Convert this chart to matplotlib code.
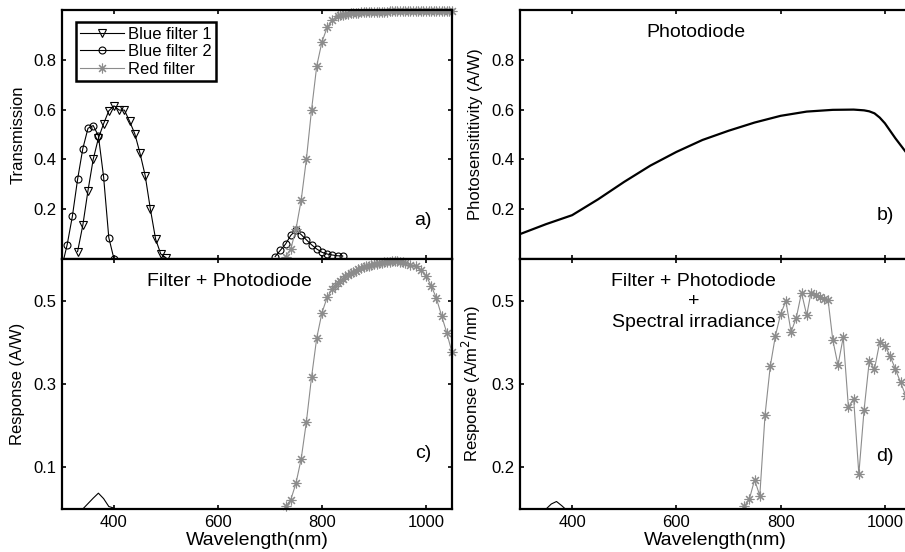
import numpy as np
import matplotlib.pyplot as plt

plt.rcParams['font.family'] = ['Liberation Sans', 'DejaVu Sans']

# ---- a) filter transmission ----
blue1_wl = [330, 340, 350, 360, 370, 380, 390, 400, 410, 420, 430, 440, 450, 460, 470, 480, 490, 500]
blue1_tr = [0.03, 0.135, 0.275, 0.40, 0.485, 0.543, 0.595, 0.615, 0.598, 0.598, 0.553, 0.503,
            0.425, 0.335, 0.20, 0.08, 0.02, 0.005]

# two pass bands, nan keeps them apart
blue2_wl = [300, 310, 320, 330, 340, 350, 360, 370, 380, 390, 400, np.nan,
            710, 720, 730, 740, 750, 760, 770, 780, 790, 800, 810, 820, 830, 840]
blue2_tr = [-0.03, 0.058, 0.172, 0.32, 0.443, 0.525, 0.536, 0.495, 0.33, 0.086, 0.0, np.nan,
            0.01, 0.035, 0.06, 0.095, 0.115, 0.098, 0.077, 0.057, 0.04, 0.027, 0.02, 0.016, 0.013, 0.012]

red_wl = [730, 740, 750, 760, 770, 780, 790, 800, 810, 820] + list(np.arange(830, 1051, 5))
red_tr = [0.01, 0.04, 0.12, 0.236, 0.40, 0.60, 0.776, 0.872, 0.93, 0.958,
          0.975, 0.978, 0.981, 0.983, 0.985, 0.986, 0.987, 0.988, 0.989, 0.990,
          0.990, 0.991, 0.991, 0.992, 0.992, 0.992, 0.993, 0.993, 0.993, 0.993,
          0.994, 0.994, 0.994, 0.994, 0.994, 0.994, 0.995, 0.995, 0.995, 0.995,
          0.995, 0.995, 0.995, 0.995, 0.995, 0.995, 0.995, 0.995, 0.995, 0.995,
          0.995, 0.995, 0.995, 0.995, 0.995]

# ---- b) photodiode ----
pd_wl = [300, 350, 400, 450, 500, 550, 600, 650, 700, 750, 800, 850, 900, 940, 960,
         970, 980, 990, 1000, 1020, 1040, 1050]
pd_sens = [0.10, 0.14, 0.176, 0.24, 0.31, 0.375, 0.43, 0.478, 0.515, 0.548, 0.575, 0.592,
           0.599, 0.60, 0.597, 0.593, 0.585, 0.568, 0.545, 0.485, 0.43, 0.40]

# ---- c) filter + photodiode ----
c_blue_wl = [340, 350, 360, 370, 380, 390, 400]
c_blue = [0.0, 0.013, 0.026, 0.038, 0.025, 0.006, 0.002]
c_red_wl = [730, 740, 750, 760, 770, 780, 790, 800, 810, 820] + list(np.arange(825, 956, 5)) + \
           [960, 970, 980, 990, 1000, 1010, 1020, 1030, 1040, 1050]
c_red = [0.006, 0.022, 0.062, 0.12, 0.209, 0.317, 0.411, 0.471, 0.508, 0.528,
         0.535, 0.542, 0.548, 0.553, 0.558, 0.562, 0.566, 0.569, 0.572, 0.575,
         0.578, 0.580, 0.582, 0.584, 0.586, 0.588, 0.589, 0.590, 0.591, 0.592,
         0.593, 0.593, 0.594, 0.594, 0.594, 0.593, 0.592,
         0.590, 0.586, 0.582, 0.574, 0.560, 0.536, 0.506, 0.464, 0.423, 0.376]

# ---- d) filter + photodiode + irradiance ----
d_blue_wl = [350, 360, 370, 380, 387]
d_blue = [0.0, 0.012, 0.018, 0.008, 0.0]
d_red_wl = [730, 740, 750, 760, 770, 780, 790, 800, 810, 820, 830, 840, 850, 858, 867, 876, 883,
            891, 900, 910, 920, 930, 940, 950, 960, 970, 980, 990, 1000, 1010, 1020, 1030, 1040, 1050]
d_red = [0.006, 0.024, 0.07, 0.032, 0.225, 0.342, 0.416, 0.468, 0.499, 0.425, 0.459, 0.519,
         0.465, 0.518, 0.514, 0.509, 0.505, 0.501, 0.406, 0.345, 0.412, 0.244, 0.265, 0.084,
         0.237, 0.355, 0.336, 0.40, 0.392, 0.367, 0.336, 0.304, 0.272, 0.24]

star = (8, 2, 0)
gray = '0.55'

fig = plt.figure(figsize=(9.05, 5.52), dpi=100)
ax_a = fig.add_axes([0.0685, 0.5308, 0.4309, 0.4511])
ax_b = fig.add_axes([0.5746, 0.5308, 0.4320, 0.4511])
ax_c = fig.add_axes([0.0685, 0.0779, 0.4309, 0.4529])
ax_d = fig.add_axes([0.5746, 0.0779, 0.4320, 0.4529])

ax_a.plot(blue1_wl, blue1_tr, color='k', lw=0.8, marker='v', ms=5.5, mfc='none', mew=0.8,
          label='Blue filter 1')
ax_a.plot(blue2_wl, blue2_tr, color='k', lw=0.8, marker='o', ms=5, mfc='none', mew=0.8,
          label='Blue filter 2')
ax_a.plot(red_wl, red_tr, color=gray, lw=0.8, marker=star, ms=7, mew=0.8,
          label='Red filter', clip_on=False)
leg = ax_a.legend(loc='upper left', bbox_to_anchor=(0.036, 0.95), borderaxespad=0,
                  fontsize=12, fancybox=False, framealpha=1, edgecolor='k',
                  handlelength=2.6, handletextpad=0.25, labelspacing=0.15,
                  borderpad=0.25, numpoints=1)
leg.get_frame().set_linewidth(1.8)
ax_a.set_ylim(0, 1)
ax_a.set_yticks([0.2, 0.4, 0.6, 0.8])
ax_a.set_ylabel('Transmission', fontsize=12)
ax_a.text(995, 0.155, 'a)', fontsize=14, ha='center', va='center')

ax_b.plot(pd_wl, pd_sens, color='k', lw=1.6)
ax_b.set_ylim(0, 1)
ax_b.set_yticks([0.2, 0.4, 0.6, 0.8])
ax_b.set_ylabel('Photosensititivity (A/W)', fontsize=12)
ax_b.text(638, 0.91, 'Photodiode', fontsize=14, ha='center', va='center')
ax_b.text(1000, 0.175, 'b)', fontsize=14, ha='center', va='center')

ax_c.plot(c_blue_wl, c_blue, color='k', lw=0.8)
ax_c.plot(c_red_wl, c_red, color=gray, lw=0.8, marker=star, ms=7, mew=0.8, clip_on=False)
ax_c.set_ylim(0, 0.6)
ax_c.set_yticks([0.1, 0.3, 0.5])
ax_c.set_ylabel('Response (A/W)', fontsize=12)
ax_c.set_xlabel('Wavelength(nm)', fontsize=14, labelpad=2)
ax_c.text(622, 0.545, 'Filter + Photodiode', fontsize=14, ha='center', va='center')
ax_c.text(994, 0.133, 'c)', fontsize=14, ha='center', va='center')

ax_d.plot(d_blue_wl, d_blue, color='k', lw=0.8)
ax_d.plot(d_red_wl, d_red, color=gray, lw=0.8, marker=star, ms=7, mew=0.8)
ax_d.set_ylim(0, 0.6)
ax_d.set_yticks([0.1, 0.3, 0.5])
ax_d.set_yticklabels(['0.2', '0.3', '0.5'])
ax_d.set_ylabel('Response (A/m$^2$/nm)', fontsize=12)
ax_d.set_xlabel('Wavelength(nm)', fontsize=14, labelpad=2)
ax_d.text(633, 0.497, 'Filter + Photodiode\n+\nSpectral irradiance', fontsize=14,
          ha='center', va='center', linespacing=1.25)
ax_d.text(1000, 0.125, 'd)', fontsize=14, ha='center', va='center')

for ax in (ax_a, ax_b, ax_c, ax_d):
    ax.set_xlim(300, 1050)
    ax.set_xticks([400, 600, 800, 1000])
    ax.tick_params(direction='in', length=3, width=1.2, top=True, right=True,
                   labelsize=12, pad=4)
    for s in ax.spines.values():
        s.set_linewidth(1.6)
    ax.yaxis.set_label_coords(-0.094, 0.5)
for ax in (ax_a, ax_b):
    ax.tick_params(labelbottom=False)

fig.savefig('out.png', dpi=100)
